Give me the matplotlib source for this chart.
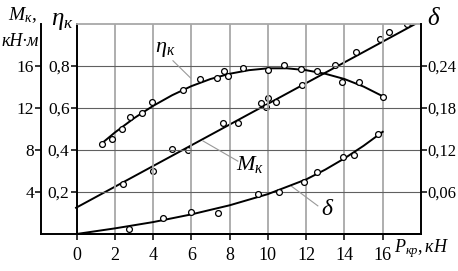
import matplotlib
matplotlib.use('Agg')
from matplotlib import pyplot as plt

plt.rcParams['font.family'] = 'Liberation Serif'
plt.rcParams['mathtext.fontset'] = 'custom'
plt.rcParams['mathtext.rm'] = 'Liberation Serif'
plt.rcParams['mathtext.it'] = 'Liberation Serif:italic'

# efficiency eta_k
eta_x = [1.32, 1.84, 2.36, 2.79, 3.44, 3.94, 5.58, 6.43, 7.34, 7.69, 7.9, 8.71,
         9.98, 10.85, 11.72, 12.56, 13.85, 14.74, 16.02]
eta_y = [0.429, 0.453, 0.499, 0.558, 0.578, 0.630, 0.687, 0.739, 0.743, 0.776,
         0.753, 0.791, 0.779, 0.803, 0.787, 0.775, 0.726, 0.726, 0.654]
eta_curve_x = [1.3, 2, 3, 4, 5, 6, 7, 8, 9, 10, 11, 12, 13, 14, 15, 16]
eta_curve_y = [0.43, 0.483, 0.551, 0.610, 0.661, 0.704, 0.738, 0.763, 0.780,
               0.789, 0.789, 0.780, 0.763, 0.738, 0.702, 0.656]

# torque M_k, kN*m
m_x = [2.43, 4.0, 5.02, 5.82, 7.69, 8.45, 9.67, 9.9, 10.02, 10.45, 11.81, 13.5,
       14.6, 15.85, 16.33, 17.27]
m_y = [4.77, 5.98, 8.06, 7.96, 10.6, 10.6, 12.44, 12.06, 12.94, 12.54, 14.22,
       16.12, 17.34, 18.6, 19.24, 19.96]
m_line_x = [0, 17.7]
m_line_y = [2.5, 20]

# slip delta
d_x = [2.76, 4.53, 5.98, 7.37, 9.49, 10.57, 11.9, 12.54, 13.93, 14.49, 15.76]
d_y = [0.0076, 0.0226, 0.031, 0.0298, 0.057, 0.0595, 0.0744, 0.0888, 0.110,
       0.113, 0.1425]
d_curve_x = [0, 2, 4, 6, 8, 10, 12, 13, 14, 15, 16]
d_curve_y = [0, 0.008, 0.017, 0.028, 0.041, 0.057, 0.078, 0.092, 0.108, 0.126, 0.146]

x_ticks = [0, 2, 4, 6, 8, 10, 12, 14, 16]
eta_ticks = [0.2, 0.4, 0.6, 0.8]
eta_labels = ['0,2', '0,4', '0,6', '0,8']
m_ticks = [4, 8, 12, 16]
d_ticks = [0.06, 0.12, 0.18, 0.24]
d_labels = ['0,06', '0,12', '0,18', '0,24']

W, H = 458, 271
fig = plt.figure(figsize=(W / 100, H / 100), dpi=100)
bot = (H - 234) / H
hgt = (234 - 24) / H

tick_kw = dict(length=4, width=1.1, labelsize=12.5, pad=1)

# outer M axis
axm = fig.add_axes([41 / W, bot, (421 - 41) / W, hgt])
axm.patch.set_alpha(0)
axm.set_ylim(0, 20)
axm.set_xticks([])
axm.set_yticks(m_ticks)
axm.tick_params(axis='y', **tick_kw)
for s in ['top', 'right']:
    axm.spines[s].set_visible(False)
for s in ['left', 'bottom']:
    axm.spines[s].set_linewidth(1.4)

# main axes (eta)
ax = fig.add_axes([76.5 / W, bot, (421 - 76.5) / W, hgt])
ax.patch.set_alpha(0)
ax.set_xlim(0, 18)
ax.set_ylim(0, 1.0)
ax.set_xticks(x_ticks)
ax.set_yticks(eta_ticks)
ax.set_yticklabels(eta_labels)
ax.tick_params(axis='y', **tick_kw)
ax.tick_params(axis='x', length=4, width=1.1, labelsize=13, pad=5)
ax.set_axisbelow(True)
ax.xaxis.grid(True, color='#a8a8a8', lw=1.3)
ax.yaxis.grid(True, color='#606060', lw=0.8)
ax.spines['top'].set_color('#a8a8a8')
ax.spines['top'].set_linewidth(1.3)
ax.spines['right'].set_visible(False)
ax.spines['left'].set_linewidth(1.4)
ax.spines['bottom'].set_linewidth(1.4)

mk = dict(marker='o', ms=4.2, mfc='white', mec='black', mew=0.9, ls='none', zorder=4)

ax.plot(eta_curve_x, eta_curve_y, c='black', lw=1.4, zorder=3)
ax.plot(eta_x, eta_y, **mk)

axm.plot(m_line_x, m_line_y, c='black', lw=1.4, zorder=3)
axm.set_xlim(-1.83, 18)
axm.plot(m_x, m_y, **mk)

axd = ax.twinx()
axd.set_ylim(0, 0.3)
axd.set_yticks(d_ticks)
axd.set_yticklabels(d_labels)
axd.tick_params(axis='y', length=4, width=1.1, labelsize=12, pad=0.5)
for s in ['top', 'left', 'bottom']:
    axd.spines[s].set_visible(False)
axd.spines['right'].set_linewidth(1.4)
axd.plot(d_curve_x, d_curve_y, c='black', lw=1.4, zorder=3)
axd.plot(d_x, d_y, **mk)

# leader lines and curve labels
lead = dict(c='#999999', lw=0.8, zorder=2)
ax.plot([5.04, 5.96], [0.825, 0.743], **lead)
ax.text(4.62, 0.88, r'$\eta_{к}$', fontsize=16, ha='center', va='center')
ax.plot([6.61, 8.43], [0.443, 0.347], **lead)
ax.text(9.06, 0.33, r'$M_{к}$', fontsize=16, ha='center', va='center')
ax.plot([11.24, 12.61], [0.227, 0.134], **lead)
ax.text(13.13, 0.115, r'$\delta$', fontsize=17, ha='center', va='center')

# axis titles
fig.text(22 / W, 1 - 15 / H, r'$M_{к},$', fontsize=14, ha='center', va='center')
fig.text(20 / W, 1 - 41 / H, 'кН·м', fontsize=13, style='italic', ha='center', va='center')
fig.text(62 / W, 1 - 21 / H, r'$\eta_{к}$', fontsize=18, ha='center', va='center')
fig.text(434 / W, 1 - 19 / H, r'$\delta$', fontsize=18, ha='center', va='center')
fig.text(422 / W, 1 - 249 / H, r'$P_{кр},кН$', fontsize=13, ha='center', va='center')

fig.savefig('out.png', dpi=100)
